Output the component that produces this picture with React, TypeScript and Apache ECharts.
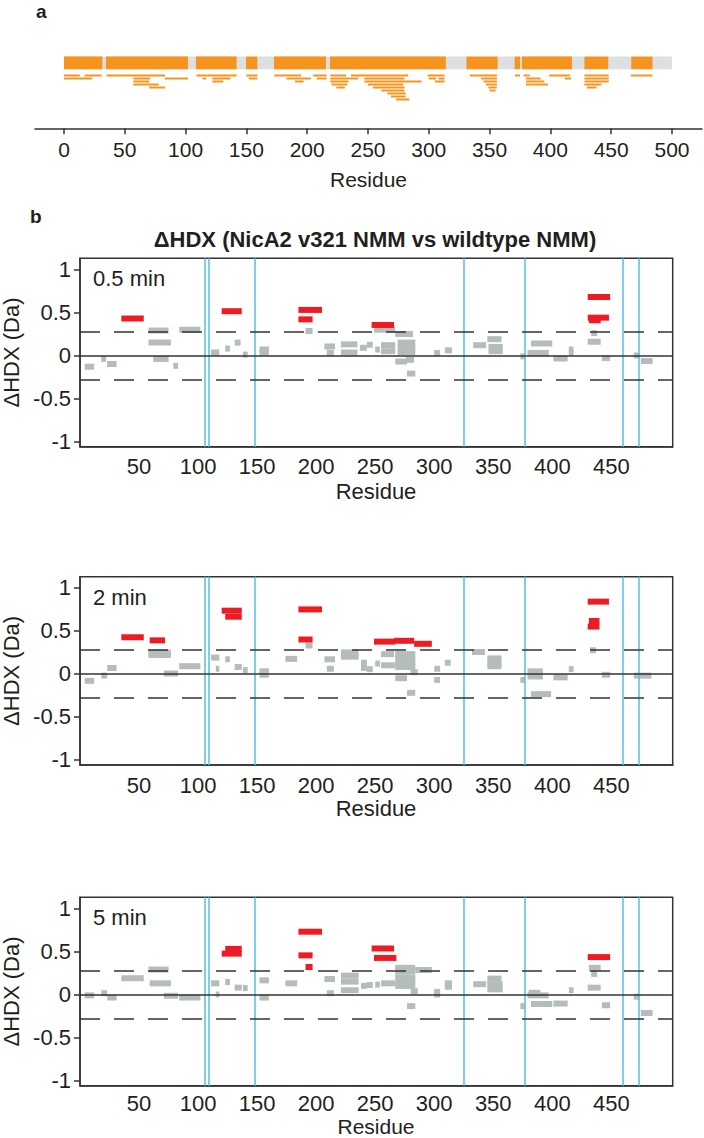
import React, { useEffect, useRef } from "react";
import * as echarts from "echarts";

// ---------- Panel a: peptide coverage ----------
const proteinSpan: [number, number][] = [[0, 500]];
const coveredSegments: [number, number][] = [
  [0, 31.5], [34.5, 102], [108.5, 142], [149.7, 159], [172.7, 215.5],
  [218.7, 314], [331, 356.6], [370.6, 375], [376.6, 417.8], [428, 447.6], [466.5, 484],
];
// [start, end, stacking row]
const peptideRows: [number, number, number][] = [
  [0, 13, 0], [17, 31, 0], [35, 83, 0], [109, 142, 0], [150, 159, 0], [173, 195, 0], [205, 216, 0],
  [219, 232, 0], [236, 283, 0], [299, 313, 0], [334, 356, 0], [371, 375, 0], [378, 383, 0], [399, 416, 0],
  [428, 448, 0], [466, 484, 0],
  [0, 23, 1], [57, 71, 1], [83, 102, 1], [114, 117, 1], [122, 137, 1], [152, 159, 1], [183, 203, 1],
  [208, 216, 1], [219, 242, 1], [247, 280, 1], [300, 306, 1], [308, 313, 1], [343, 356, 1], [380, 392, 1],
  [412, 417, 1], [428, 448, 1],
  [57, 70, 2], [122, 131, 2], [190, 197, 2], [219, 234, 2], [247, 294, 2], [305, 313, 2], [345, 356, 2],
  [380, 395, 2], [428, 448, 2],
  [57, 78, 3], [220, 233, 3], [250, 279, 3], [347, 356, 3], [380, 398, 3], [428, 442, 3],
  [70, 83, 4], [224, 231, 4], [254, 280, 4], [349, 356, 4], [430, 438, 4],
  [261, 280, 5], [350, 355, 5],
  [266, 281, 6],
  [269, 281, 7],
  [273, 284, 8],
];
const xTicksA = [0, 50, 100, 150, 200, 250, 300, 350, 400, 450, 500];

// ---------- Panel b: ΔHDX per peptide [start, end, ΔHDX] ----------
const timeLabels = ["0.5 min", "2 min", "5 min"];

const gray05: [number, number, number][] = [
  [4, 12, -0.13], [18, 22, -0.04], [23, 31, -0.1], [58, 75, 0.29], [58, 77, 0.15], [62, 75, -0.04],
  [79, 83, -0.12], [84, 102, 0.3], [111, 118, 0.035], [123, 127, 0.08], [131, 136, 0.15], [138, 142, 0.01],
  [152, 160, 0.07], [152, 160, 0.04], [191, 197, 0.285], [207, 216, 0.105], [209, 215, 0.03],
  [221, 235, 0.13], [221, 235, 0.035], [237, 243, 0.09], [243, 248, 0.125], [250, 254, 0.07],
  [249, 267, 0.3], [267, 282, 0.25], [255, 267, 0.12], [255, 267, 0.05], [269, 284, 0.15],
  [269, 284, 0.1], [269, 284, 0.04], [267, 277, -0.07], [276, 283, -0.05], [277, 284, -0.21],
  [300, 305, 0.03], [309, 315, 0.06], [333, 344, 0.12], [345, 357, 0.19], [346, 358, 0.1],
  [346, 358, 0.05], [373, 377, -0.01], [382, 400, 0.14], [379, 397, 0.03], [401, 413, -0.035],
  [414, 418, 0.07], [414, 418, 0.03], [433, 438, 0.26], [430, 441, 0.16], [442, 449, -0.03],
  [469, 474, 0.0], [475, 485, -0.065],
];
const red05: [number, number, number][] = [
  [35, 54, 0.43], [120, 137, 0.515], [185, 205, 0.53], [185, 197, 0.42], [247, 266, 0.355],
  [430, 449, 0.68], [430, 448, 0.44], [431, 441, 0.41],
];

const gray2: [number, number, number][] = [
  [4, 12, -0.08], [18, 23, -0.02], [23, 31, 0.07], [58, 77, 0.25], [58, 77, 0.22], [71, 83, 0.005],
  [84, 102, 0.09], [111, 118, 0.19], [115, 118, 0.06], [123, 127, 0.17], [131, 137, 0.08],
  [138, 142, 0.045], [152, 160, 0.03], [152, 160, -0.01], [174, 184, 0.175], [191, 197, 0.33],
  [207, 216, 0.17], [209, 215, 0.06], [221, 236, 0.25], [221, 236, 0.2], [238, 243, 0.13],
  [238, 243, 0.07], [243, 248, 0.055], [250, 254, 0.12], [255, 266, 0.23], [255, 267, 0.1],
  [267, 284, 0.23], [267, 284, 0.18], [267, 284, 0.13], [267, 284, 0.08], [267, 277, -0.05],
  [280, 286, 0.02], [277, 284, -0.22], [300, 305, 0.06], [300, 305, -0.07], [309, 314, 0.13],
  [332, 343, 0.255], [345, 357, 0.18], [345, 357, 0.13], [345, 357, 0.09], [373, 377, -0.07],
  [379, 392, 0.03], [379, 392, -0.03], [382, 399, -0.235], [401, 413, -0.04], [414, 418, 0.055],
  [432, 437, 0.275], [442, 449, -0.01], [469, 473, -0.02], [473, 484, -0.02],
];
const red2: [number, number, number][] = [
  [35, 54, 0.425], [59, 72, 0.39], [120, 137, 0.735], [123, 137, 0.665], [185, 205, 0.75],
  [185, 197, 0.4], [249, 267, 0.375], [266, 283, 0.385], [283, 298, 0.35], [430, 448, 0.84],
  [431, 440, 0.615], [430, 440, 0.55],
];

const gray5: [number, number, number][] = [
  [4, 12, -0.01], [18, 23, 0.015], [23, 31, -0.035], [35, 54, 0.19], [58, 75, 0.29], [59, 77, 0.13],
  [71, 83, -0.015], [84, 102, -0.035], [111, 118, 0.13], [115, 118, 0.0], [123, 127, 0.145],
  [131, 137, 0.08], [138, 142, 0.075], [152, 160, 0.165], [152, 160, -0.035], [174, 184, 0.13],
  [207, 216, 0.18], [209, 215, 0.015], [221, 236, 0.22], [221, 236, 0.15], [221, 236, 0.05],
  [238, 243, 0.1], [243, 248, 0.11], [250, 254, 0.115], [255, 267, 0.13], [267, 284, 0.31],
  [267, 284, 0.27], [267, 284, 0.2], [267, 284, 0.15], [267, 284, 0.1], [284, 298, 0.285],
  [280, 286, 0.04], [277, 284, -0.135], [300, 305, 0.03], [300, 305, 0.0], [309, 315, 0.13],
  [309, 315, 0.09], [333, 344, 0.12], [345, 357, 0.185], [345, 358, 0.12], [345, 358, 0.06],
  [373, 377, -0.135], [379, 397, -0.01], [380, 390, 0.02], [382, 400, -0.11], [401, 413, -0.105],
  [414, 418, 0.05], [431, 441, 0.31], [433, 438, 0.24], [430, 441, 0.08], [442, 449, -0.125],
  [469, 474, -0.025], [475, 485, -0.215],
];
const red5: [number, number, number][] = [
  [123, 137, 0.53], [120, 137, 0.475], [185, 205, 0.73], [185, 197, 0.455], [191, 197, 0.32],
  [247, 266, 0.535], [249, 268, 0.425], [430, 449, 0.435],
];

const grayPanels = [gray05, gray2, gray5];
const redPanels = [red05, red2, red5];
const xTicksB = [50, 100, 150, 200, 250, 300, 350, 400, 450];
const yTicksB = [-1, -0.5, 0, 0.5, 1];
const domainBoundaries = [106, 109, 148, 325, 377, 460, 473];
const significanceThreshold = 0.285;

// ---------- styling ----------
const FONT = "'Liberation Sans', Arial, Helvetica, sans-serif";
const TEXT = "#231f20";
const AXIS = "#333333";
const ORANGE = "#f7941d";
const COVER_GRAY = "#dde0e3";
const RED = "#ed1c24";
const GRAY = "#b5bdbc";
const CYAN = "#5cc3e8";

const gridTopsB = [258.3, 576.7, 897.3];
const xNameOffsetsB = [44.5, 43, 40.8];
const xNameSizesB = [22, 22, 21];
const xLabelMarginsB = [9, 9, 7];
const GRID_B_H = 188.4;

function App() {
  const ref = useRef<HTMLDivElement>(null);

  useEffect(() => {
    if (!ref.current) return;
    const chart = echarts.init(ref.current, undefined, { renderer: "svg" });

    const COVER_ROW = -4.2;
    const grids: any[] = [
      { left: 35, top: 50, width: 667, height: 78.3, show: false, containLabel: false, outerBoundsMode: "none" },
    ];
    const xAxes: any[] = [
      {
        gridIndex: 0,
        type: "value",
        position: "bottom",
        min: -23.85,
        max: 524.7,
        axisLine: { show: true, onZero: false, lineStyle: { color: AXIS, width: 1.5 } },
        axisTick: { show: true, length: 6, lineStyle: { color: AXIS, width: 1.5 }, customValues: xTicksA },
        axisLabel: { show: true, customValues: xTicksA, fontSize: 21, color: TEXT, margin: 11, fontFamily: FONT },
        splitLine: { show: false },
        name: "Residue",
        nameLocation: "middle",
        nameGap: 41,
        nameTextStyle: { fontSize: 21, color: TEXT, fontFamily: FONT },
      },
    ];
    const yAxes: any[] = [
      { gridIndex: 0, type: "value", inverse: true, min: -8.5, max: 17.6, show: false },
    ];
    const series: any[] = [
      {
        type: "custom",
        xAxisIndex: 0,
        yAxisIndex: 0,
        data: proteinSpan,
        renderItem: (_p: any, api: any) => {
          const s = api.coord([api.value(0), COVER_ROW]);
          const e = api.coord([api.value(1), COVER_ROW]);
          return { type: "rect", shape: { x: s[0], y: s[1] - 6.3, width: e[0] - s[0], height: 12.6 }, style: { fill: COVER_GRAY } };
        },
        z: 1,
      },
      {
        type: "custom",
        xAxisIndex: 0,
        yAxisIndex: 0,
        data: coveredSegments,
        renderItem: (_p: any, api: any) => {
          const s = api.coord([api.value(0), COVER_ROW]);
          const e = api.coord([api.value(1), COVER_ROW]);
          return { type: "rect", shape: { x: s[0], y: s[1] - 6.3, width: e[0] - s[0], height: 12.6 }, style: { fill: ORANGE } };
        },
        z: 2,
      },
      {
        type: "custom",
        xAxisIndex: 0,
        yAxisIndex: 0,
        data: peptideRows,
        renderItem: (_p: any, api: any) => {
          const s = api.coord([api.value(0), api.value(2)]);
          const e = api.coord([api.value(1), api.value(2)]);
          return { type: "rect", shape: { x: s[0], y: s[1] - 1, width: e[0] - s[0], height: 2 }, style: { fill: ORANGE } };
        },
        z: 2,
      },
    ];

    const pepRender = (color: string) => (_p: any, api: any) => {
      const s = api.coord([api.value(0), api.value(2)]);
      const e = api.coord([api.value(1), api.value(2)]);
      const h = 6;
      return { type: "rect", shape: { x: s[0], y: s[1] - h / 2, width: Math.max(e[0] - s[0], 3), height: h }, style: { fill: color } };
    };

    const graphics: any[] = [
      { type: "text", left: 36, top: 2, style: { text: "a", fontSize: 19, fontWeight: "bold", fill: TEXT, fontFamily: FONT } },
      { type: "text", left: 30, top: 207, style: { text: "b", fontSize: 19, fontWeight: "bold", fill: TEXT, fontFamily: FONT } },
      {
        type: "text", x: 375, y: 239,
        style: { text: "ΔHDX (NicA2 v321 NMM vs wildtype NMM)", fontSize: 22, fontWeight: "bold", fill: TEXT, fontFamily: FONT, align: "center", verticalAlign: "middle" },
      },
    ];

    gridTopsB.forEach((top, i) => {
      const gi = i + 1;
      grids.push({
        left: 80, top, width: 592.7, height: GRID_B_H, show: true, borderColor: AXIS, borderWidth: 1.5,
        backgroundColor: "transparent", containLabel: false, outerBoundsMode: "none",
      });
      xAxes.push({
        gridIndex: gi,
        type: "value",
        position: "bottom",
        min: 0,
        max: 502,
        axisLine: { show: true, onZero: false, lineStyle: { color: AXIS, width: 1.5 } },
        axisTick: { show: false },
        axisLabel: { show: true, customValues: xTicksB, fontSize: 22, color: TEXT, margin: xLabelMarginsB[i], fontFamily: FONT },
        splitLine: { show: false },
      });
      yAxes.push({
        gridIndex: gi,
        type: "value",
        position: "left",
        min: -1.06,
        max: 1.13,
        axisLine: { show: true, onZero: false, lineStyle: { color: AXIS, width: 1.5 } },
        axisTick: { show: true, length: 6, customValues: yTicksB, lineStyle: { color: AXIS, width: 1.5 } },
        axisLabel: { show: true, customValues: yTicksB, fontSize: 22, color: TEXT, margin: 9, fontFamily: FONT },
        splitLine: { show: false },
        name: "ΔHDX (Da)",
        nameLocation: "middle",
        nameRotate: 90,
        nameGap: 58,
        nameTextStyle: { fontSize: 22, color: TEXT, fontFamily: FONT },
      });
      // reference lines
      series.push({
        type: "custom",
        xAxisIndex: gi,
        yAxisIndex: gi,
        data: [],
        renderItem: () => null,
        z: 1,
        silent: true,
        markLine: {
          silent: true,
          symbol: "none",
          animation: false,
          label: { show: false },
          data: [
            ...domainBoundaries.map((v) => ({ xAxis: v, lineStyle: { color: CYAN, width: 1.6, type: "solid" } })),
            { yAxis: significanceThreshold, lineStyle: { color: AXIS, width: 1.5, type: [20, 14] } },
            { yAxis: -significanceThreshold, lineStyle: { color: AXIS, width: 1.5, type: [20, 14] } },
            { yAxis: 0, lineStyle: { color: AXIS, width: 1.5, type: "solid" } },
          ],
        },
      });
      series.push({
        type: "custom",
        xAxisIndex: gi,
        yAxisIndex: gi,
        data: grayPanels[i],
        renderItem: pepRender(GRAY),
        z: 3,
      });
      series.push({
        type: "custom",
        xAxisIndex: gi,
        yAxisIndex: gi,
        data: redPanels[i],
        renderItem: pepRender(RED),
        z: 4,
      });
      graphics.push({
        type: "text",
        x: 93,
        y: top + 20.5,
        style: { text: timeLabels[i], fontSize: 22, fill: TEXT, fontFamily: FONT, align: "left", verticalAlign: "middle" },
      });
      graphics.push({
        type: "text",
        x: 376,
        y: top + GRID_B_H + xNameOffsetsB[i],
        style: { text: "Residue", fontSize: xNameSizesB[i], fill: TEXT, fontFamily: FONT, align: "center", verticalAlign: "middle" },
      });
    });

    chart.setOption({
      animation: false,
      backgroundColor: "#ffffff",
      textStyle: { fontFamily: FONT },
      grid: grids,
      xAxis: xAxes,
      yAxis: yAxes,
      series,
      graphic: graphics,
    });

    return () => chart.dispose();
  }, []);

  return (
    <div style={{ position: "absolute", left: 0, top: 0, width: 704, height: 1138, background: "#fff" }}>
      <div ref={ref} style={{ width: 704, height: 1138 }} />
    </div>
  );
}

export default App;
